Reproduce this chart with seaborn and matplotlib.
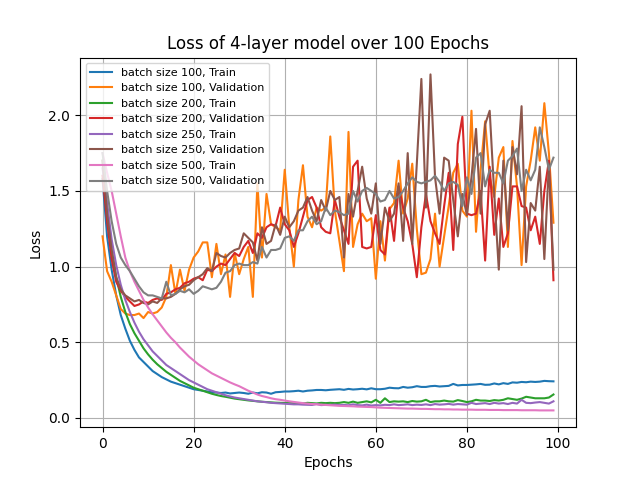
import matplotlib
matplotlib.use("Agg")
import matplotlib.pyplot as plt
import seaborn as sns
import pandas as pd
import numpy as np

epochs = list(range(100))

train_100 = [1.58, 1.20, 0.98, 0.81, 0.68, 0.59, 0.51, 0.45, 0.40, 0.37,
             0.34, 0.31, 0.29, 0.27, 0.255, 0.24, 0.23, 0.22, 0.21, 0.20,
             0.19, 0.185, 0.18, 0.175, 0.17, 0.168, 0.165, 0.168, 0.162, 0.165,
             0.168, 0.165, 0.16, 0.168, 0.163, 0.17, 0.168, 0.16, 0.17, 0.172,
             0.175, 0.175, 0.177, 0.18, 0.175, 0.18, 0.182, 0.185, 0.185, 0.183,
             0.186, 0.188, 0.19, 0.186, 0.192, 0.188, 0.19, 0.193, 0.189, 0.196,
             0.19, 0.19, 0.193, 0.20, 0.197, 0.196, 0.205, 0.20, 0.203, 0.21,
             0.205, 0.205, 0.21, 0.212, 0.208, 0.21, 0.212, 0.225, 0.215, 0.218,
             0.218, 0.22, 0.222, 0.225, 0.219, 0.22, 0.228, 0.222, 0.23, 0.225,
             0.235, 0.233, 0.238, 0.236, 0.24, 0.238, 0.24, 0.245, 0.243, 0.242]

val_100 = [1.20, 0.97, 0.90, 0.81, 0.72, 0.69, 0.68, 0.68, 0.69, 0.66,
           0.70, 0.69, 0.70, 0.73, 0.80, 1.01, 0.82, 0.98, 0.84, 0.98,
           1.06, 1.10, 1.16, 1.16, 0.93, 1.15, 0.95, 1.08, 0.80, 1.09,
           0.95, 1.05, 1.13, 0.80, 1.55, 1.06, 1.48, 1.28, 1.26, 1.24,
           1.64, 1.26, 1.00, 1.44, 1.67, 1.33, 1.26, 1.39, 1.37, 1.39,
           1.86, 1.37, 1.17, 0.97, 1.89, 1.13, 1.28, 1.35, 1.30, 1.32,
           0.92, 1.30, 1.04, 1.38, 1.42, 1.70, 1.35, 1.45, 1.68, 1.25,
           0.95, 0.96, 1.05, 1.35, 1.00, 1.20, 1.40, 1.62, 1.68, 1.37,
           1.33, 2.03, 1.23, 1.64, 1.96, 1.59, 1.46, 1.72, 1.79, 1.13,
           1.83, 1.53, 1.01, 1.53, 1.70, 1.92, 1.70, 2.08, 1.75, 1.29]

train_200 = [1.70, 1.38, 1.10, 0.93, 0.80, 0.70, 0.62, 0.56, 0.51, 0.46,
             0.42, 0.385, 0.355, 0.33, 0.305, 0.285, 0.265, 0.245, 0.23, 0.215,
             0.20, 0.19, 0.18, 0.17, 0.16, 0.152, 0.145, 0.14, 0.134, 0.128,
             0.124, 0.12, 0.116, 0.113, 0.11, 0.107, 0.105, 0.103, 0.101, 0.10,
             0.099, 0.098, 0.097, 0.097, 0.096, 0.10, 0.098, 0.096, 0.10, 0.098,
             0.10, 0.098, 0.10, 0.105, 0.10, 0.108, 0.10, 0.105, 0.11, 0.103,
             0.12, 0.10, 0.13, 0.105, 0.11, 0.108, 0.11, 0.105, 0.112, 0.108,
             0.11, 0.12, 0.105, 0.11, 0.11, 0.115, 0.11, 0.108, 0.118, 0.112,
             0.105, 0.11, 0.12, 0.115, 0.115, 0.112, 0.118, 0.115, 0.12, 0.13,
             0.125, 0.12, 0.128, 0.14, 0.135, 0.13, 0.13, 0.13, 0.135, 0.155]

val_200 = [1.60, 1.30, 1.05, 0.90, 0.84, 0.80, 0.77, 0.74, 0.75, 0.77,
           0.76, 0.78, 0.79, 0.78, 0.82, 0.83, 0.85, 0.86, 0.89, 0.90,
           0.92, 0.93, 0.91, 0.98, 0.97, 1.00, 1.02, 1.01, 1.05, 1.09,
           1.07, 1.13, 1.17, 1.09, 1.22, 1.19, 1.26, 1.28, 1.27, 1.39,
           1.28, 1.24, 1.13, 1.22, 1.33, 1.44, 1.46, 1.39, 1.26, 1.23,
           1.22, 1.44, 1.33, 1.24, 1.15, 1.66, 1.70, 1.13, 1.12, 1.13,
           1.34, 1.11, 1.08, 1.39, 1.17, 1.53, 1.39, 1.30, 1.15, 0.93,
           1.26, 1.48, 1.30, 1.22, 1.15, 1.40, 1.62, 1.11, 1.81, 1.99,
           1.35, 1.34, 1.35, 1.50, 1.04, 1.66, 1.21, 1.45, 1.13, 1.22,
           1.53, 1.53, 1.40, 1.39, 1.24, 1.33, 1.15, 1.50, 1.70, 0.91]

train_250 = [1.65, 1.42, 1.18, 1.01, 0.88, 0.78, 0.70, 0.63, 0.57, 0.52,
             0.48, 0.44, 0.41, 0.38, 0.35, 0.33, 0.31, 0.29, 0.27, 0.25,
             0.235, 0.22, 0.205, 0.19, 0.18, 0.17, 0.16, 0.15, 0.142, 0.135,
             0.13, 0.125, 0.12, 0.115, 0.11, 0.107, 0.104, 0.10, 0.098, 0.096,
             0.094, 0.092, 0.09, 0.09, 0.088, 0.087, 0.086, 0.092, 0.085, 0.087,
             0.086, 0.088, 0.085, 0.086, 0.084, 0.09, 0.085, 0.083, 0.088, 0.082,
             0.085, 0.083, 0.087, 0.085, 0.09, 0.085, 0.087, 0.09, 0.085, 0.088,
             0.086, 0.09, 0.085, 0.092, 0.088, 0.09, 0.093, 0.088, 0.092, 0.09,
             0.088, 0.10, 0.092, 0.095, 0.098, 0.092, 0.10, 0.095, 0.098, 0.092,
             0.10, 0.095, 0.12, 0.10, 0.098, 0.102, 0.105, 0.10, 0.095, 0.11]

val_250 = [1.70, 1.35, 1.11, 0.93, 0.85, 0.81, 0.79, 0.77, 0.78, 0.76,
           0.75, 0.77, 0.76, 0.79, 0.79, 0.80, 0.82, 0.85, 0.87, 0.88,
           0.91, 0.93, 0.95, 0.99, 0.97, 1.09, 1.07, 1.06, 1.09, 1.11,
           1.12, 1.22, 1.19, 1.16, 1.04, 1.26, 1.15, 1.17, 1.28, 1.21,
           1.33, 1.26, 1.30, 1.37, 1.39, 1.46, 1.37, 1.30, 1.44, 1.37,
           1.50, 1.44, 1.46, 1.06, 1.48, 1.33, 1.50, 1.66, 1.45, 1.35,
           1.55, 1.15, 1.39, 1.30, 1.35, 1.55, 1.17, 1.75, 1.15, 1.68,
           2.24, 1.39, 2.27, 1.59, 1.35, 1.72, 1.70, 1.44, 1.20, 1.48,
           1.34, 1.59, 1.91, 1.35, 1.94, 2.03, 1.48, 0.98, 1.70, 1.24,
           1.79, 1.61, 2.06, 1.03, 1.42, 1.37, 1.66, 1.05, 1.68, 0.98]

train_500 = [1.75, 1.62, 1.50, 1.35, 1.20, 1.06, 0.97, 0.90, 0.84, 0.78,
             0.73, 0.685, 0.645, 0.605, 0.565, 0.53, 0.50, 0.465, 0.435, 0.405,
             0.38, 0.355, 0.335, 0.315, 0.295, 0.28, 0.265, 0.25, 0.235, 0.222,
             0.21, 0.195, 0.18, 0.168, 0.155, 0.145, 0.138, 0.13, 0.124, 0.12,
             0.115, 0.11, 0.106, 0.102, 0.098, 0.095, 0.092, 0.09, 0.088, 0.086,
             0.084, 0.082, 0.08, 0.079, 0.078, 0.077, 0.075, 0.074, 0.073, 0.072,
             0.07, 0.068, 0.067, 0.066, 0.065, 0.064, 0.063, 0.062, 0.062, 0.061,
             0.06, 0.06, 0.059, 0.058, 0.058, 0.057, 0.057, 0.056, 0.056, 0.055,
             0.055, 0.055, 0.054, 0.054, 0.054, 0.053, 0.053, 0.053, 0.052, 0.052,
             0.052, 0.052, 0.051, 0.051, 0.051, 0.051, 0.05, 0.05, 0.05, 0.05]

val_500 = [1.75, 1.50, 1.30, 1.15, 1.06, 1.01, 0.97, 0.92, 0.87, 0.83,
           0.81, 0.81, 0.80, 0.79, 0.90, 0.81, 0.82, 0.84, 0.83, 0.85,
           0.82, 0.84, 0.87, 0.86, 0.85, 0.86, 0.90, 0.96, 0.97, 1.01,
           1.02, 1.01, 1.01, 1.03, 1.02, 1.13, 1.06, 1.11, 1.11, 1.12,
           1.19, 1.20, 1.17, 1.24, 1.24, 1.30, 1.33, 1.28, 1.30, 1.39,
           1.34, 1.37, 1.36, 1.34, 1.35, 1.50, 1.43, 1.50, 1.52, 1.50,
           1.48, 1.43, 1.44, 1.50, 1.45, 1.46, 1.50, 1.55, 1.59, 1.56,
           1.55, 1.56, 1.57, 1.60, 1.56, 1.50, 1.55, 1.56, 1.54, 1.40,
           1.59, 1.48, 1.72, 1.75, 1.53, 1.64, 1.62, 1.62, 1.55, 1.70,
           1.73, 1.78, 1.50, 1.64, 1.57, 1.64, 1.92, 1.79, 1.64, 1.72]

series = [
    ("batch size 100, Train", train_100),
    ("batch size 100, Validation", val_100),
    ("batch size 200, Train", train_200),
    ("batch size 200, Validation", val_200),
    ("batch size 250, Train", train_250),
    ("batch size 250, Validation", val_250),
    ("batch size 500, Train", train_500),
    ("batch size 500, Validation", val_500),
]

palette = sns.color_palette("tab10", 8)

fig, ax = plt.subplots(figsize=(6.4, 4.8), dpi=100)
for (label, vals), color in zip(series, palette):
    df = pd.DataFrame({"Epochs": epochs, "Loss": vals})
    sns.lineplot(data=df, x="Epochs", y="Loss", ax=ax, color=color,
                 label=label, linewidth=1.5)

ax.set_title("Loss of 4-layer model over 100 Epochs")
ax.set_xlabel("Epochs")
ax.set_ylabel("Loss")
ax.set_xticks([0, 20, 40, 60, 80, 100])
ax.set_xlim(-4.95, 103.95)
ax.grid(True, color="#b0b0b0", linewidth=0.8)
ax.legend(loc="upper left", fontsize=8)

fig.savefig("out.png", dpi=100)
